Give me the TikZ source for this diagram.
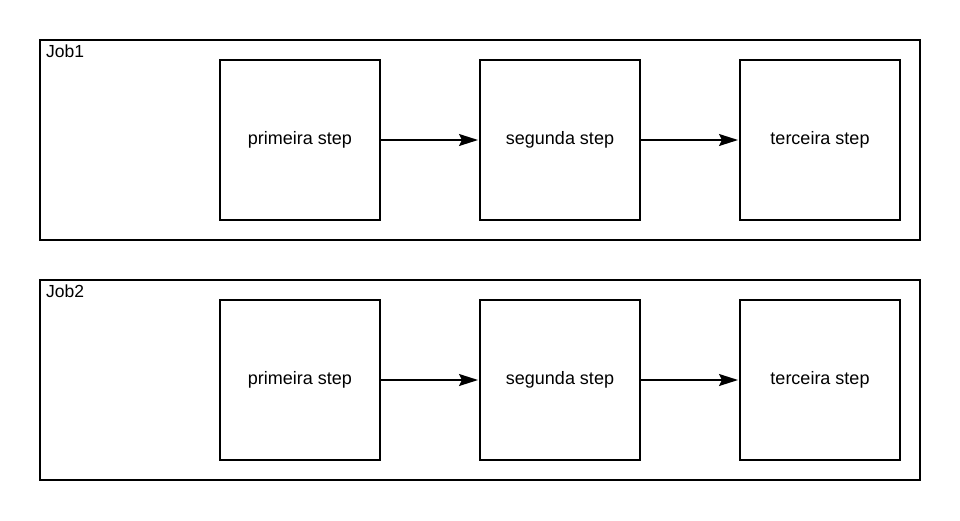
\documentclass[tikz,border=0pt]{standalone}
\usepackage{fontspec}
\setmainfont{Liberation Sans}
\usetikzlibrary{arrows.meta}
\begin{document}
\begin{tikzpicture}[x=1pt,y=-1pt,
  jobbox/.style={draw,line width=1.5pt,minimum width=880pt,minimum height=200pt,inner sep=0pt,outer sep=0pt},
  stepbox/.style={draw,line width=1.5pt,minimum width=160pt,minimum height=160pt,inner sep=0pt,outer sep=0pt,font=\fontsize{18}{21}\selectfont},
  joblabel/.style={anchor=north west,inner sep=0pt,font=\fontsize{17.5}{21}\selectfont},
  flow/.style={line width=1.5pt,-{Stealth[length=19pt,width=12pt,inset=3pt]},shorten >=2pt}]
\useasboundingbox (0,0) rectangle (960,520);
\foreach \j/\y in {1/140,2/380}{
  \node[jobbox] (job\j) at (480,\y) {};
  \node[joblabel] (lab\j) at (46,\y-95) {Job\j};
  \node[stepbox] (a\j) at (300,\y) {primeira step};
  \node[stepbox] (b\j) at (560,\y) {segunda step};
  \node[stepbox] (c\j) at (820,\y) {terceira step};
  \draw[flow] (a\j) -- (b\j);
  \draw[flow] (b\j) -- (c\j);
}
\end{tikzpicture}
\end{document}
